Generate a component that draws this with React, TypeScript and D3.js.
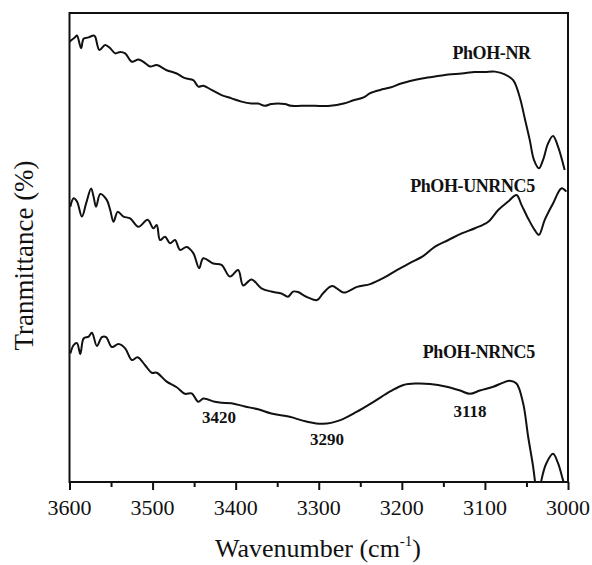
import React, { useEffect, useRef } from "react";
import * as d3 from "d3";

// wavenumber (cm-1) and transmittance (arbitrary offset units)
const nrWave = [3600,3593,3591,3586,3583,3577,3571,3569,3564,3557,3551,3545,3539,3533,3525,3517,3511,3503,3495,3483,3471,3461,3451,3445,3439,3429,3417,3405,3393,3381,3373,3365,3357,3341,3333,3321,3305,3286,3270,3258,3246,3238,3226,3214,3202,3190,3174,3154,3144,3128,3112,3100,3088,3076,3066,3058,3052,3046,3041,3035,3030,3024,3018,3012,3004];
const nrVal = [93.9,94.9,95.2,92.5,94.5,94.8,95.2,94.9,92.1,93.2,92.5,91.4,91.7,91.4,89.6,90.1,89.6,88.6,88.9,87.8,87.1,86.1,85.7,84.3,84.5,83.6,82.5,81.8,81.1,80.7,80.7,80.2,80.6,80.6,80.2,80.2,80.2,80.2,80.7,81.4,82.0,82.9,83.6,84.1,84.9,85.5,86.1,86.6,86.9,87.1,87.4,87.4,87.5,86.9,85.7,82.0,77.5,72.9,68.7,66.9,68.7,72.2,73.8,71.5,66.5];

const unWave = [3599,3595,3591,3585,3580,3574,3571,3568,3563,3555,3551,3547,3542,3535,3527,3517,3506,3499,3495,3491,3485,3479,3473,3467,3459,3451,3444,3439,3427,3417,3407,3397,3391,3381,3369,3357,3345,3337,3331,3325,3315,3302,3295,3284,3270,3254,3238,3222,3206,3190,3174,3160,3144,3128,3112,3096,3084,3072,3062,3056,3048,3040,3035,3028,3018,3008,3002];
const unVal = [58.7,60.5,59.8,56.6,59.4,62.6,60.8,58.7,61.4,60.1,58.0,55.5,57.6,56.6,56.2,54.4,55.9,54.1,54.8,51.6,52.3,50.9,51.6,49.5,50.1,48.8,45.6,47.7,46.6,46.3,43.8,45.2,41.9,43.2,41.3,40.6,40.2,39.5,40.6,40.5,39.5,38.8,40.2,41.8,40.4,41.6,42.2,43.5,45.2,46.7,48.2,50.2,51.6,53.0,54.1,55.5,58.0,59.8,61.2,59.1,56.2,53.7,52.7,55.9,59.4,62.6,61.9];

const ncWave = [3599,3595,3591,3587,3583,3577,3573,3567,3561,3556,3549,3541,3533,3525,3518,3509,3501,3495,3483,3471,3461,3453,3445,3439,3425,3417,3405,3389,3373,3357,3335,3315,3295,3274,3254,3234,3214,3198,3182,3166,3146,3130,3118,3106,3090,3078,3070,3062,3054,3048,3042,3040,3036,3032,3026,3018,3012,3006,3002];
const ncVal = [27.4,29.2,29.6,27.3,30.6,31.0,31.8,29.0,30.9,30.9,28.8,29.4,28.5,26.0,26.6,24.9,23.3,23.3,21.4,20.2,18.8,18.9,17.1,17.8,17.1,16.9,16.8,16.1,15.5,14.6,13.9,12.9,12.4,13.2,15.0,17.1,19.3,20.7,21.0,20.9,20.3,19.5,18.8,19.5,20.3,21.2,21.6,21.0,16.8,9.7,3.3,0.5,-5,0.4,4.0,6.0,4.0,0.4,-1.7];

const seriesNames = ["PhOH-NR", "PhOH-UNRNC5", "PhOH-NRNC5"];
const seriesLabelWave = [3045, 3040, 3040];
const seriesLabelVal = [90.2, 61.8, 26.4];

const peakWave = [3420, 3290, 3118];
const peakLabelVal = [12.6, 7.9, 13.9];

const majorTicks = [3600, 3500, 3400, 3300, 3200, 3100, 3000];
const minorTicks = [3550, 3450, 3350, 3250, 3150, 3050];

const SERIF = "Liberation Serif, Times New Roman, Times, DejaVu Serif, serif";

export default function App() {
  const ref = useRef<SVGSVGElement>(null);
  useEffect(() => {
    const svg = d3.select(ref.current);
    svg.selectAll("*").remove();
    const L = 69.5, R = 568, T = 13, B = 482;
    const x = d3.scaleLinear().domain([3600, 3000]).range([L, R]);
    const y = d3.scaleLinear().domain([0, 100]).range([B, T]);

    svg.append("clipPath").attr("id", "clip").append("rect")
      .attr("x", L).attr("y", T).attr("width", R - L).attr("height", B - T);

    const line = d3.line<[number, number]>().x(d => x(d[0])).y(d => y(d[1]))
      .curve(d3.curveCatmullRom.alpha(0.5));
    const sets: [number[], number[]][] = [[nrWave, nrVal], [unWave, unVal], [ncWave, ncVal]];
    const g = svg.append("g").attr("clip-path", "url(#clip)");
    sets.forEach(([w, v]) => {
      g.append("path")
        .attr("d", line(w.map((wv, i) => [wv, v[i]] as [number, number])) as string)
        .attr("fill", "none").attr("stroke", "#111").attr("stroke-width", 2)
        .attr("stroke-linejoin", "round");
    });

    svg.append("rect").attr("x", L).attr("y", T).attr("width", R - L).attr("height", B - T)
      .attr("fill", "none").attr("stroke", "#111").attr("stroke-width", 2);

    const ax = svg.append("g").attr("transform", `translate(0,${B})`)
      .call(d3.axisBottom(x).tickValues(majorTicks).tickSize(8).tickFormat(() => ""));
    ax.select(".domain").remove();
    ax.selectAll("line").attr("stroke", "#111").attr("stroke-width", 2);
    const mx = svg.append("g").attr("transform", `translate(0,${B})`)
      .call(d3.axisBottom(x).tickValues(minorTicks).tickSize(5).tickFormat(() => ""));
    mx.select(".domain").remove();
    mx.selectAll("line").attr("stroke", "#111").attr("stroke-width", 2);

    svg.append("g").selectAll("text").data(majorTicks).join("text")
      .attr("x", d => x(d)).attr("y", 515).attr("text-anchor", "middle")
      .style("font-family", SERIF).style("font-size", "22px").attr("fill", "#111")
      .text(d => String(d));

    seriesNames.forEach((n, i) => {
      svg.append("text").attr("x", x(seriesLabelWave[i])).attr("y", y(seriesLabelVal[i]))
        .attr("text-anchor", "end").style("font-family", SERIF).style("font-weight", "bold")
        .style("font-size", "18px").style("letter-spacing", "-0.4px").attr("fill", "#111").text(n);
    });
    peakWave.forEach((p, i) => {
      svg.append("text").attr("x", x(p)).attr("y", y(peakLabelVal[i]))
        .attr("text-anchor", "middle").style("font-family", SERIF)
        .style("font-weight", "bold").style("font-size", "17px").attr("fill", "#111").text(String(p));
    });

    const xt = svg.append("text").attr("x", 318).attr("y", 557).attr("text-anchor", "middle")
      .style("font-family", SERIF).style("font-size", "26px").attr("fill", "#111");
    xt.append("tspan").text("Wavenumber (cm");
    xt.append("tspan").style("font-size", "15px").attr("dy", -11).text("-1");
    xt.append("tspan").attr("dy", 11).text(")");

    svg.append("text").attr("transform", `translate(33,${(T + B) / 2 + 8}) rotate(-90)`)
      .attr("text-anchor", "middle").style("font-family", SERIF).style("font-size", "27px")
      .attr("fill", "#111").text("Tranmittance (%)");
  }, []);
  return (
    <svg ref={ref} width={592} height={565}
      style={{ position: "absolute", left: 0, top: 0, background: "#fff" }} />
  );
}
